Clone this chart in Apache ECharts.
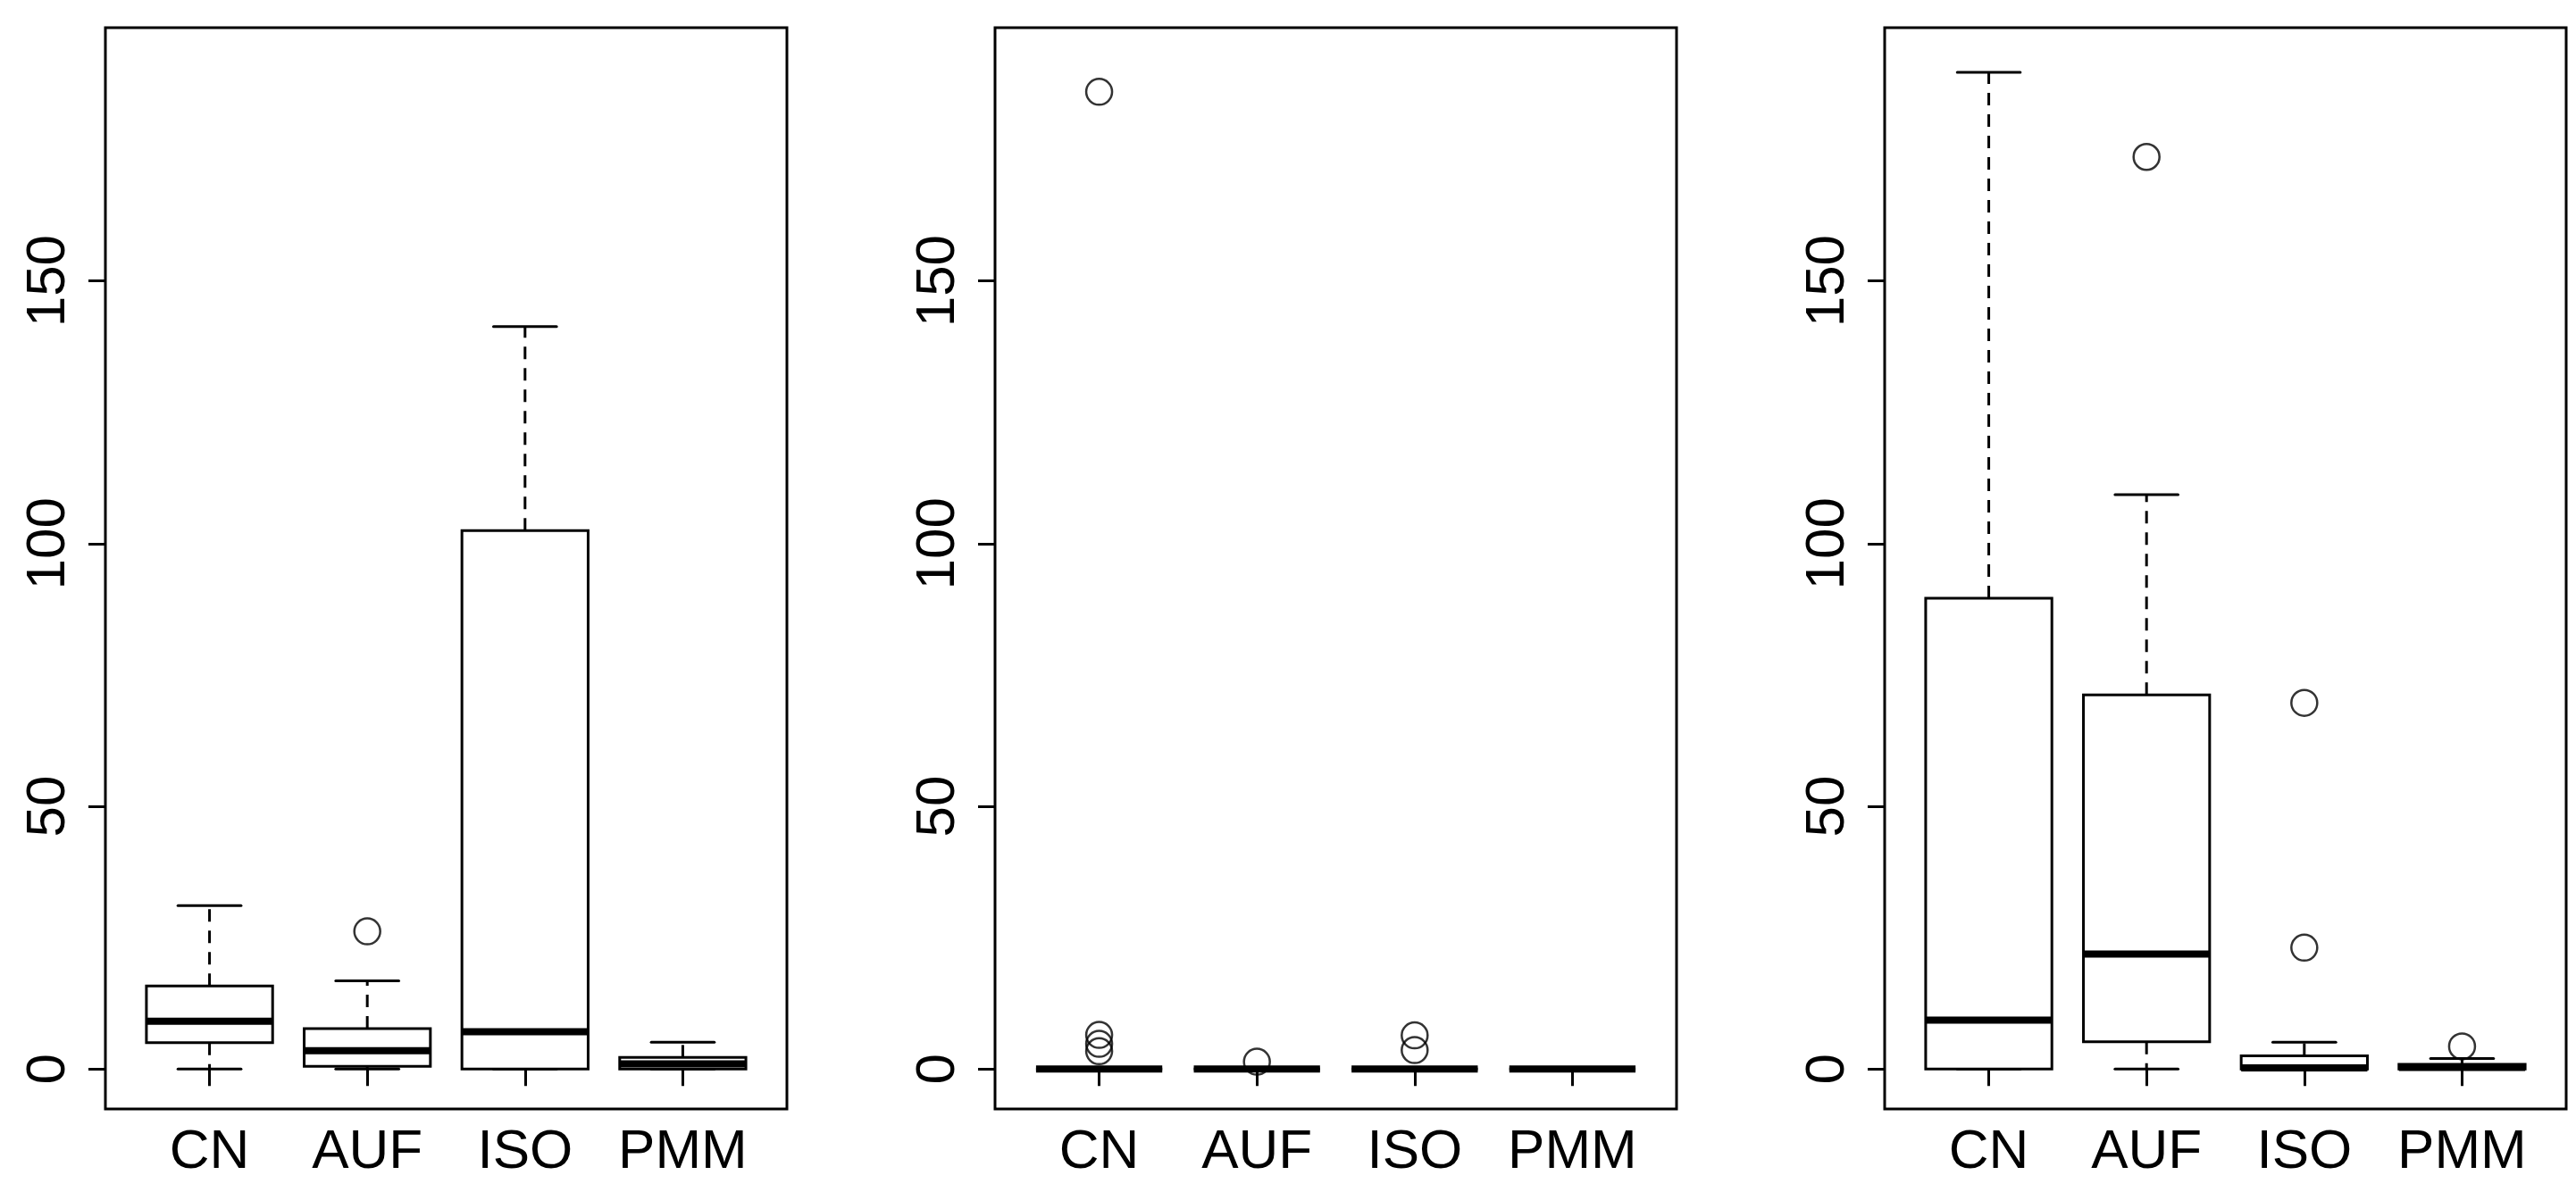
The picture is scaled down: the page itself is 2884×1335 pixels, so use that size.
<!DOCTYPE html>
<html>
<head>
<meta charset="utf-8">
<title>Boxplots</title>
<script src="https://cdn.jsdelivr.net/npm/echarts@6/dist/echarts.min.js"></script>
<style>
    html, body { margin: 0; padding: 0; background: #fff; }
    #chart { width: 2884px; height: 1335px; }
</style>
</head>
<body>
<div id="chart"></div>
<script>
    // categories on the x axis (placed at 1..4)
    var categories = ['CN', 'AUF', 'ISO', 'PMM'];
    var yTicks = [0, 50, 100, 150];

    // box stats per category: [low whisker, Q1, median, Q3, high whisker]
    var panel1Stats = [
        [0, 5.0, 9.1, 15.8, 31.1],
        [0, 0.5, 3.5, 7.7, 16.8],
        [0, 0, 7.1, 102.5, 141.3],
        [0, 0, 1.0, 2.2, 5.1]
    ];
    var panel2Stats = [
        [0, 0, 0, 0, 0],
        [0, 0, 0, 0, 0],
        [0, 0, 0, 0, 0],
        [0, 0, 0, 0, 0]
    ];
    var panel3Stats = [
        [0, 0, 9.3, 89.6, 189.7],
        [0, 5.2, 21.9, 71.2, 109.3],
        [0, 0, 0.2, 2.5, 5.1],
        [0, 0, 0.3, 0.9, 2.0]
    ];

    // outliers: [category position, value]
    var panel1Outliers = [[2, 26.2]];
    var panel2Outliers = [[1, 186], [1, 6.5], [1, 4.8], [1, 3.4], [2, 1.4], [3, 6.4], [3, 3.6]];
    var panel3Outliers = [[2, 173.6], [3, 69.7], [3, 23.1], [4, 4.3]];

    var panels = [
        { stats: panel1Stats, outliers: panel1Outliers, left: 118 },
        { stats: panel2Stats, outliers: panel2Outliers, left: 1114 },
        { stats: panel3Stats, outliers: panel3Outliers, left: 2110 }
    ];

    var font = '"Liberation Sans", Arial, sans-serif';
    var halfBox = 0.4;
    var halfStaple = 0.2;

    function renderBox(params, api) {
        var x = api.value(0);
        var low = api.value(1), q1 = api.value(2), med = api.value(3), q3 = api.value(4), high = api.value(5);
        function seg(x1, y1, x2, y2, style) {
            var a = api.coord([x1, y1]);
            var b = api.coord([x2, y2]);
            return { type: 'line', shape: { x1: a[0], y1: a[1], x2: b[0], y2: b[1] }, style: style };
        }
        var dashed = { stroke: '#000', lineWidth: 3, lineDash: [14, 10] };
        var solid = { stroke: '#000', lineWidth: 3, lineCap: 'round' };
        var tl = api.coord([x - halfBox, q3]);
        var br = api.coord([x + halfBox, q1]);
        return {
            type: 'group',
            children: [
                seg(x, q3, x, high, dashed),
                seg(x, q1, x, low, dashed),
                seg(x - halfStaple, high, x + halfStaple, high, solid),
                seg(x - halfStaple, low, x + halfStaple, low, solid),
                {
                    type: 'rect',
                    shape: { x: tl[0], y: tl[1], width: br[0] - tl[0], height: br[1] - tl[1] },
                    style: { fill: '#fff', stroke: '#000', lineWidth: 3 }
                },
                seg(x - halfBox, med, x + halfBox, med, { stroke: '#000', lineWidth: 8 })
            ]
        };
    }

    var grids = [], xAxes = [], yAxes = [], series = [];
    panels.forEach(function (p, i) {
        grids.push({
            left: p.left, top: 31, width: 763, height: 1211,
            show: true, borderColor: '#000', borderWidth: 3, backgroundColor: 'transparent'
        });
        xAxes.push({
            type: 'value', gridIndex: i, min: 0.34, max: 4.66,
            axisLine: { show: false },
            splitLine: { show: false },
            axisTick: { show: true, customValues: [1, 2, 3, 4], length: 19, lineStyle: { color: '#000', width: 3 } },
            axisLabel: {
                customValues: [1, 2, 3, 4], margin: 18,
                color: '#000', fontSize: 62, fontFamily: font,
                formatter: function (v) { return categories[Math.round(v) - 1]; }
            }
        });
        yAxes.push({
            type: 'value', gridIndex: i, min: -7.6, max: 198.2,
            axisLine: { show: false },
            splitLine: { show: false },
            axisTick: { show: true, customValues: yTicks, length: 19, lineStyle: { color: '#000', width: 3 } },
            axisLabel: {
                customValues: yTicks, rotate: 90, margin: 32,
                color: '#000', fontSize: 62, fontFamily: font
            }
        });
        series.push({
            type: 'custom', xAxisIndex: i, yAxisIndex: i,
            renderItem: renderBox,
            encode: { x: 0, y: [1, 2, 3, 4, 5] },
            data: p.stats.map(function (s, k) { return [k + 1].concat(s); }),
            clip: false, silent: true
        });
        series.push({
            type: 'scatter', xAxisIndex: i, yAxisIndex: i,
            data: p.outliers,
            symbol: 'circle', symbolSize: 29,
            itemStyle: { color: 'rgba(0,0,0,0)', borderColor: '#000', borderWidth: 2.5 },
            silent: true, z: 5
        });
    });

    var chart = echarts.init(document.getElementById('chart'));
    chart.setOption({
        animation: false,
        backgroundColor: '#fff',
        grid: grids,
        xAxis: xAxes,
        yAxis: yAxes,
        series: series
    });
</script>
</body>
</html>
